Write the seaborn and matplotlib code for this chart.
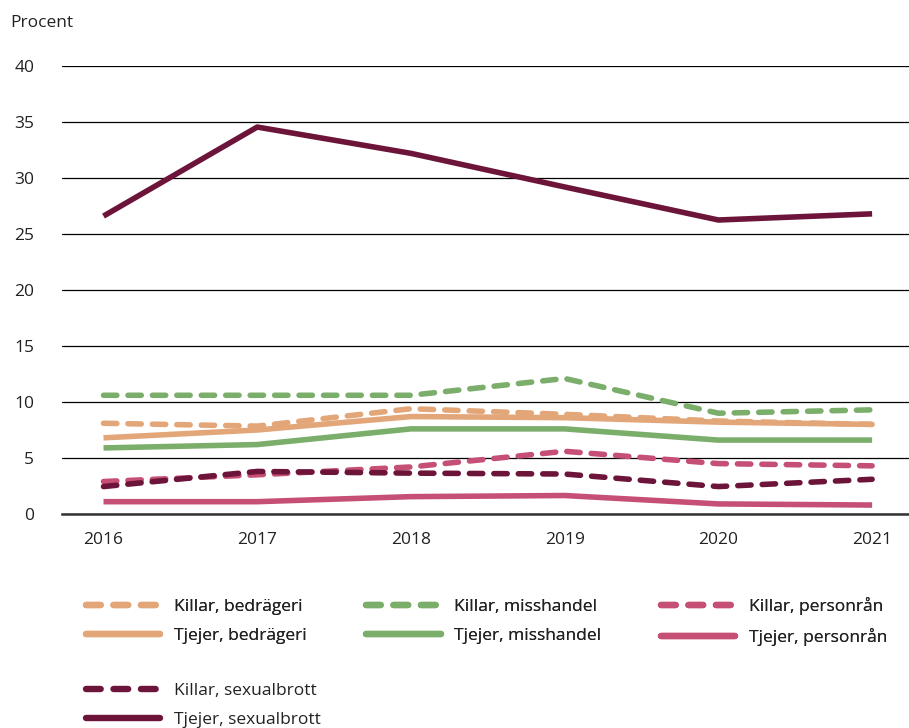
import pandas as pd
import matplotlib
matplotlib.use("Agg")
import matplotlib.pyplot as plt
from matplotlib.lines import Line2D
import seaborn as sns

# data
years = [2016, 2017, 2018, 2019, 2020, 2021]
killar_bedrageri = [8.1, 7.85, 9.4, 8.9, 8.3, 8.0]
tjejer_bedrageri = [6.8, 7.5, 8.7, 8.6, 8.2, 8.0]
killar_misshandel = [10.6, 10.6, 10.6, 12.1, 9.0, 9.3]
tjejer_misshandel = [5.9, 6.2, 7.6, 7.6, 6.6, 6.6]
killar_personran = [2.9, 3.5, 4.2, 5.6, 4.5, 4.3]
tjejer_personran = [1.1, 1.1, 1.55, 1.65, 0.9, 0.8]
killar_sexualbrott = [2.45, 3.8, 3.65, 3.57, 2.45, 3.1]
tjejer_sexualbrott = [26.6, 34.55, 32.2, 29.2, 26.25, 26.8]

series = {
    ("Killar", "bedrägeri"): killar_bedrageri,
    ("Tjejer", "bedrägeri"): tjejer_bedrageri,
    ("Killar", "misshandel"): killar_misshandel,
    ("Tjejer", "misshandel"): tjejer_misshandel,
    ("Killar", "personrån"): killar_personran,
    ("Tjejer", "personrån"): tjejer_personran,
    ("Killar", "sexualbrott"): killar_sexualbrott,
    ("Tjejer", "sexualbrott"): tjejer_sexualbrott,
}

rows = []
for (kon, brott), vals in series.items():
    for y, v in zip(years, vals):
        rows.append({"år": y, "procent": v, "kön": kon, "brott": brott})
df = pd.DataFrame(rows)

farger = {
    "bedrägeri": "#E3A679",
    "misshandel": "#7BAE6B",
    "personrån": "#C64F76",
    "sexualbrott": "#6C1439",
}
dash = (2.4, 2.0)

sns.set_style("white")
plt.rcParams["font.family"] = ["Open Sans", "DejaVu Sans"]

fs = 12.5
fig = plt.figure(figsize=(9.09, 7.28), dpi=100)
ax = fig.add_axes([62 / 909, 1 - 514 / 728, 1 - 62 / 909, (514 - 66) / 728])

lw = 4.0
for (kon, brott), vals in series.items():
    d = df[(df["kön"] == kon) & (df["brott"] == brott)]
    line_kw = dict(color=farger[brott], linewidth=lw, solid_capstyle="butt")
    if kon == "Killar":
        line_kw.update(dashes=dash, dash_capstyle="round")
    sns.lineplot(data=d, x="år", y="procent", ax=ax, legend=False, **line_kw)

ax.set_xlim(2015.73, 2021.24)
ax.set_ylim(0, 40)
ax.set_yticks(range(0, 41, 5))
ax.set_xticks(years)
ax.grid(axis="y", color="black", linewidth=0.9)
ax.set_axisbelow(True)
for s in ["top", "right", "left"]:
    ax.spines[s].set_visible(False)
ax.spines["bottom"].set_color("#333333")
ax.spines["bottom"].set_linewidth(1.8)
ax.tick_params(axis="both", length=0, labelsize=fs, colors="#222222")
ax.tick_params(axis="y", pad=20)
ax.tick_params(axis="x", pad=13)
ax.set_xlabel("")
ax.set_ylabel("")
fig.text(10 / 909, 1 - 23 / 728, "Procent", fontsize=fs, va="center", color="#222222")


def handle(brott, kon):
    kw = dict(color=farger[brott], linewidth=lw + 0.6)
    if kon == "Killar":
        return Line2D([0], [0], linestyle=(0, (2.3, 2.0)), dash_capstyle="round", **kw)
    return Line2D([0], [0], solid_capstyle="round", **kw)


top_handles = []
top_labels = []
for brott in ["bedrägeri", "misshandel", "personrån"]:
    for kon in ["Killar", "Tjejer"]:
        top_handles.append(handle(brott, kon))
        top_labels.append(f"{kon}, {brott}")

leg_kw = dict(loc="upper left", frameon=False, fontsize=fs, handlelength=4.3,
              handletextpad=0.8, labelspacing=0.75, labelcolor="#222222")
leg1 = fig.legend(top_handles, top_labels, ncol=3,
                  bbox_to_anchor=(70 / 909, 1 - 581 / 728),
                  columnspacing=3.4, **leg_kw)
fig.add_artist(leg1)

bottom_handles = [handle("sexualbrott", "Killar"), handle("sexualbrott", "Tjejer")]
bottom_labels = ["Killar, sexualbrott", "Tjejer, sexualbrott"]
fig.legend(bottom_handles, bottom_labels, ncol=1,
           bbox_to_anchor=(70 / 909, 1 - 667 / 728), **leg_kw)

fig.savefig("out.png", dpi=100)
